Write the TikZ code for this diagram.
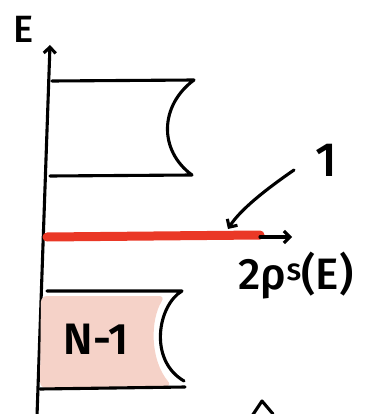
\documentclass[tikz,border=0pt]{standalone}
\usepackage{fontspec}
\setsansfont{Fira Sans}[UprightFont={* Medium}, BoldFont={* SemiBold}]
\definecolor{lvred}{RGB}{234,56,38}
\definecolor{lvpink}{RGB}{245,210,200}
\usetikzlibrary{arrows.meta,positioning,calc}
\tikzset{
  hand/.style={draw=black, line width=3.1pt, line cap=round, line join=round},
  lbl/.style={font=\sffamily, inner sep=0pt},
}
\begin{document}
\begin{tikzpicture}[x=1pt, y=-1pt]
  \useasboundingbox (0,0) rectangle (368,414);

  % Energy axis
  \coordinate (axbot) at (37,416);
  \coordinate (axtop) at (50,45);
  \draw[hand, -{Straight Barb[length=6pt,width=12pt]}] (axbot) -- (axtop);
  \node[lbl, font=\sffamily\fontsize{38}{38}\selectfont] (elabel) at (24,29) {E};

  % Upper band
  \draw[hand] (52,81) -- (194,80)
    .. controls (160,105) and (158,150) .. (192,175) -- (50,176);

  % Lower band (N-1 filled)
  \fill[lvpink, rounded corners=6pt] (41,296) -- (165,296)
    .. controls (150,320) and (150,360) .. (172,386) -- (40,388) -- cycle;
  \draw[hand] (47,291) -- (182,291)
    .. controls (158,305) and (148,360) .. (184,381);
  \draw[hand] (40,389) -- (185,387);
  \node[lbl, font=\sffamily\bfseries\fontsize{44}{44}\selectfont] (nlabel) at (96,339) {N-1};

  % Single level
  \coordinate (lvstart) at (47,237);
  \coordinate (lvend) at (260,235);
  \draw[lvred, line width=9pt, line cap=round] (lvstart) -- (lvend);
  \coordinate (rhostart) at (260,237);
  \coordinate (rhoend) at (292,237);
  \draw[hand, -{Straight Barb[length=6pt,width=12pt]}] (rhostart) -- (rhoend);
  \node[lbl, font=\sffamily\fontsize{44}{44}\selectfont] (rholabel) at (296,276) {2ρ\textsuperscript{s}(E)};

  % Label pointing at the level
  \node[lbl, font=\sffamily\fontsize{48}{48}\selectfont] (onelabel) at (326,160) {1};
  \coordinate (onefoot) at (294,170);
  \coordinate (lvtip) at (228,229);
  \draw[hand, -{Straight Barb[length=6pt,width=12pt]}] (onefoot)
    .. controls (265,190) and (240,210) .. (lvtip);

  % Cut-off mark at bottom
  \draw[hand] (252,416) -- (262,401) -- (273,414);
\end{tikzpicture}
\end{document}
